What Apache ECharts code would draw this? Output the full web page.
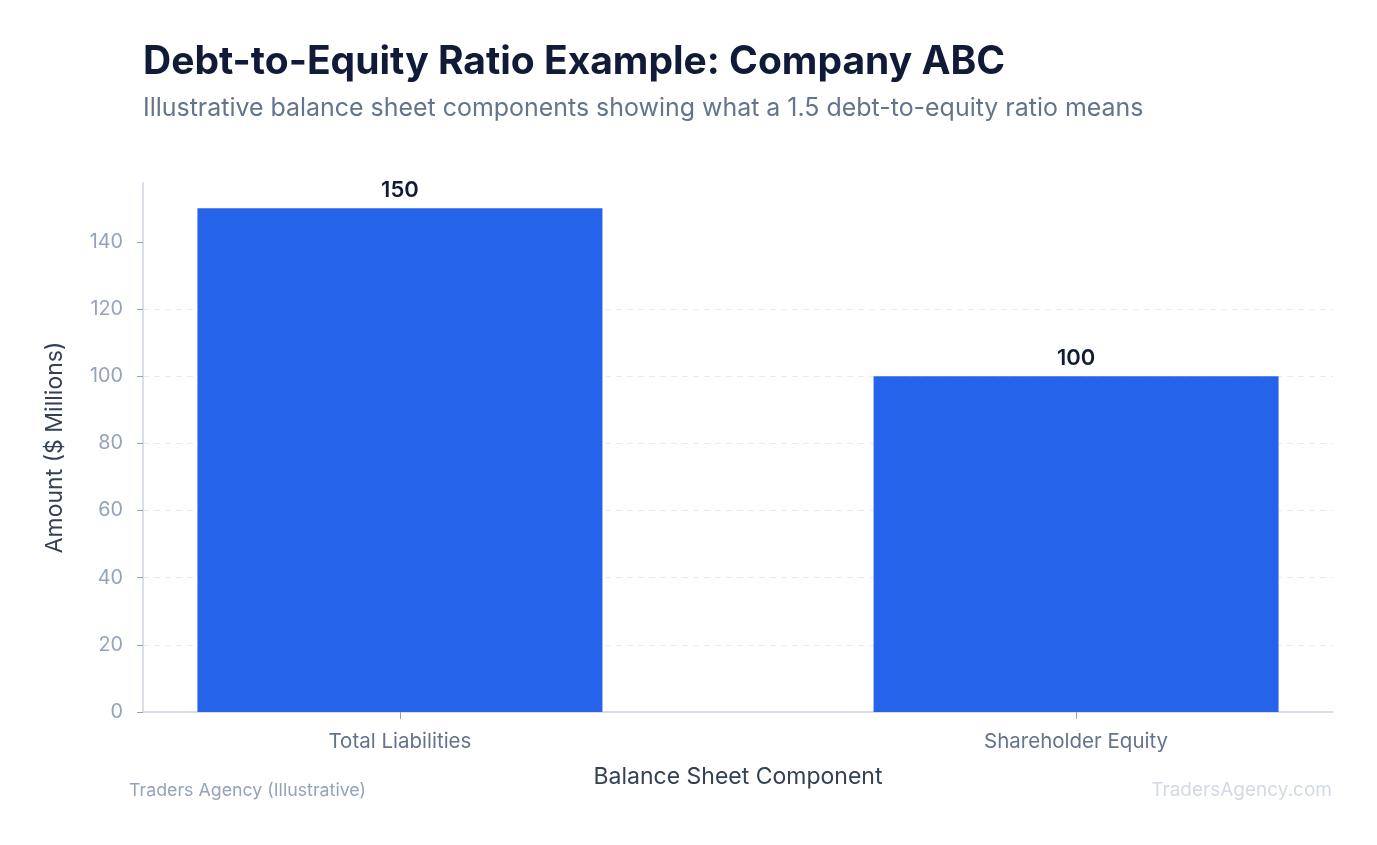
<!DOCTYPE html>
<html lang="en">

<head>
    <meta charset="UTF-8">
    <title>Debt-to-Equity Ratio Example</title>
    <script src="https://cdn.jsdelivr.net/npm/echarts@6.0.0/dist/echarts.min.js"></script>
    <style>
        html, body { margin: 0; padding: 0; background: #ffffff; }
    </style>
</head>

<body>
    <div id="main" style="width: 1377px; height: 845px;"></div>

    <script type="text/javascript">
        // Chart data
        const categories = ['Total Liabilities', 'Shareholder Equity'];
        const amounts = [150, 100];
        const yTicks = [0, 20, 40, 60, 80, 100, 120, 140];

        const font = 'Inter, "Noto Sans", sans-serif';

        let myChart = echarts.init(document.getElementById('main'));

        let options = {
            backgroundColor: '#ffffff',
            animation: false,
            title: {
                text: 'Debt-to-Equity Ratio Example: Company ABC',
                subtext: 'Illustrative balance sheet components showing what a 1.5 debt-to-equity ratio means',
                left: 138,
                top: 38,
                itemGap: 14,
                textStyle: {
                    fontFamily: font,
                    fontSize: 39,
                    fontWeight: 'bold',
                    color: '#111b37'
                },
                subtextStyle: {
                    fontFamily: font,
                    fontSize: 24.95,
                    color: '#64748b'
                }
            },
            grid: {
                left: 143,
                right: 44,
                top: 183,
                bottom: 133,
                containLabel: false
            },
            xAxis: {
                type: 'value',
                // categories sit at 0 and 1, with padding on both sides
                min: -0.38,
                max: 1.38,
                name: 'Balance Sheet Component',
                nameLocation: 'middle',
                nameGap: 54,
                nameTextStyle: {
                    fontFamily: font,
                    fontSize: 23,
                    color: '#334155'
                },
                axisLine: { show: true, lineStyle: { color: '#cbd5e1', width: 1.5 } },
                axisTick: { show: true, customValues: [0, 1], length: 7, lineStyle: { color: '#94a3b8' } },
                splitLine: { show: false },
                axisLabel: {
                    customValues: [0, 1],
                    margin: 19,
                    fontFamily: font,
                    fontSize: 20.5,
                    color: '#64748b',
                    formatter: (v) => categories[Math.round(v)] || ''
                }
            },
            yAxis: {
                type: 'value',
                min: 0,
                max: 157.5,
                interval: 20,
                name: 'Amount ($ Millions)',
                nameLocation: 'middle',
                nameGap: 76,
                nameTextStyle: {
                    fontFamily: font,
                    fontSize: 23,
                    color: '#334155'
                },
                axisLine: { show: true, onZero: false, lineStyle: { color: '#cbd5e1', width: 1.5 } },
                axisTick: { show: true, customValues: yTicks, length: 6, lineStyle: { color: '#94a3b8' } },
                splitLine: {
                    show: true,
                    showMinLine: false,
                    showMaxLine: false,
                    lineStyle: { color: '#e8ecf1', type: [6, 5], width: 1 }
                },
                axisLabel: {
                    customValues: yTicks,
                    margin: 20,
                    padding: [4, 0, 0, 0],
                    fontFamily: font,
                    fontSize: 19.8,
                    color: '#94a3b8'
                }
            },
            series: [{
                name: 'Amount',
                type: 'bar',
                data: amounts.map((v, i) => [i, v]),
                barWidth: 405,
                itemStyle: { color: '#2563eb' },
                label: {
                    show: true,
                    position: 'top',
                    distance: 7,
                    fontFamily: font,
                    fontSize: 22,
                    fontWeight: 600,
                    color: '#111b37',
                    formatter: (p) => p.value[1]
                }
            }],
            graphic: [
                {
                    type: 'text',
                    left: 129,
                    top: 782,
                    style: {
                        text: 'Traders Agency (Illustrative)',
                        font: '17.8px ' + font,
                        fill: '#94a3b8'
                    }
                },
                {
                    type: 'text',
                    right: 45,
                    top: 781,
                    style: {
                        text: 'TradersAgency.com',
                        font: '19px ' + font,
                        fill: '#d3dae4'
                    }
                }
            ]
        };

        myChart.setOption(options);

        window.addEventListener('resize', () => {
            myChart.resize();
        });
    </script>
</body>

</html>
